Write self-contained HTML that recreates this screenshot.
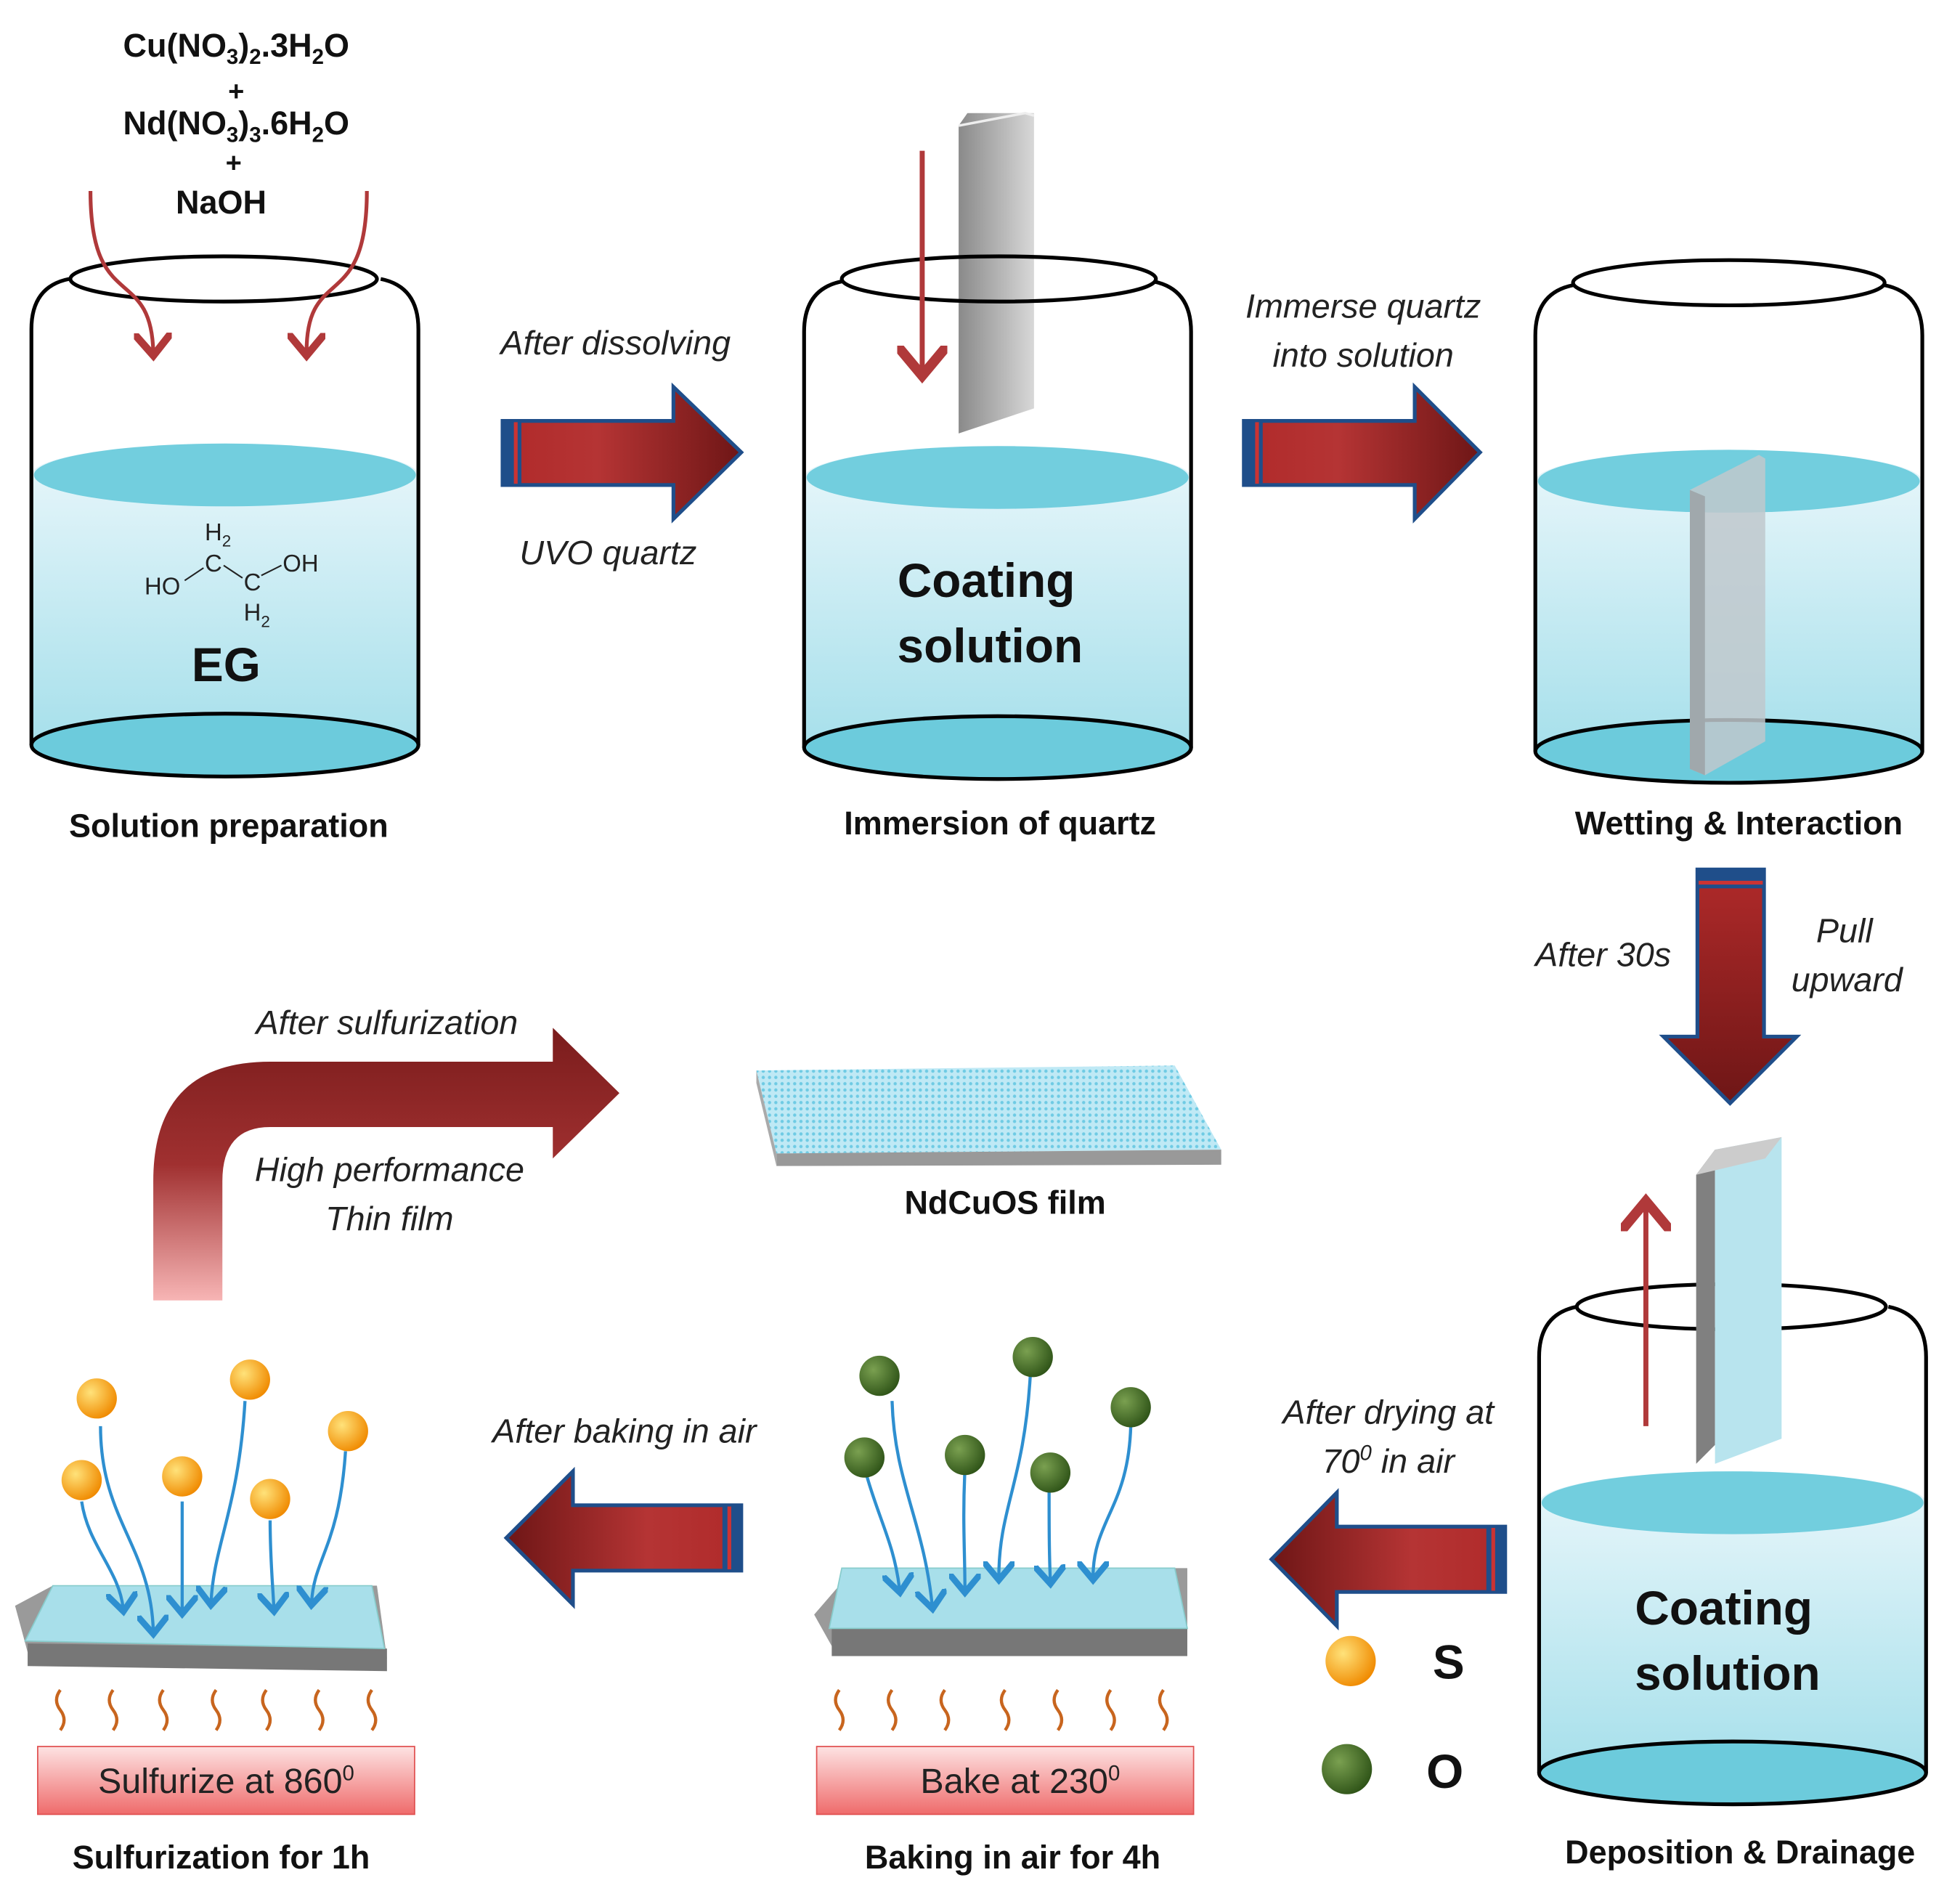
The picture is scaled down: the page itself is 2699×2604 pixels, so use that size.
<!DOCTYPE html>
<html><head><meta charset="utf-8"><style>html,body{margin:0;padding:0;background:#fff}svg{display:block}</style></head>
<body>
<svg width="2699" height="2604" viewBox="0 0 1560 1505" preserveAspectRatio="none" xmlns="http://www.w3.org/2000/svg" font-family="Liberation Sans, sans-serif">
<defs>
<linearGradient id="liq" x1="0" y1="0" x2="0" y2="1"><stop offset="0" stop-color="#eaf7fb"/><stop offset="1" stop-color="#9fdde9"/></linearGradient>
<linearGradient id="arrH" x1="0" y1="0" x2="1" y2="0"><stop offset="0" stop-color="#b02a2a"/><stop offset="0.4" stop-color="#b53434"/><stop offset="1" stop-color="#6e1616"/></linearGradient>
<linearGradient id="arrL" x1="1" y1="0" x2="0" y2="0"><stop offset="0" stop-color="#b02a2a"/><stop offset="0.4" stop-color="#b53434"/><stop offset="1" stop-color="#6e1616"/></linearGradient>
<linearGradient id="arrD" x1="0" y1="0" x2="0" y2="1"><stop offset="0" stop-color="#b02a2a"/><stop offset="1" stop-color="#6e1616"/></linearGradient>
<linearGradient id="curv" x1="0" y1="1" x2="0" y2="0"><stop offset="0" stop-color="#f7b5b5"/><stop offset="0.5" stop-color="#a03030"/><stop offset="1" stop-color="#7a1c1c"/></linearGradient>
<linearGradient id="heat" x1="0" y1="0" x2="0" y2="1"><stop offset="0" stop-color="#fde3e3"/><stop offset="1" stop-color="#ef6b6b"/></linearGradient>
<linearGradient id="gray" x1="0" y1="0" x2="1" y2="0"><stop offset="0" stop-color="#8a8a8a"/><stop offset="1" stop-color="#d8d8d8"/></linearGradient>
<radialGradient id="sb" cx="0.35" cy="0.35" r="0.7"><stop offset="0" stop-color="#ffe27a"/><stop offset="1" stop-color="#f08a00"/></radialGradient>
<radialGradient id="ob" cx="0.35" cy="0.35" r="0.7"><stop offset="0" stop-color="#7aa050"/><stop offset="1" stop-color="#2f5418"/></radialGradient>
<pattern id="dots" width="5" height="5" patternUnits="userSpaceOnUse"><rect width="5" height="5" fill="#bfe9f5"/><circle cx="2.5" cy="2.5" r="1.3" fill="#6fcbe4"/></pattern>
<marker id="ra" markerWidth="10" markerHeight="10" refX="5" refY="5" orient="auto"><path d="M0,0 L6,5 L0,10" fill="none" stroke="#b0393a" stroke-width="2"/></marker>
<marker id="ba" markerWidth="10" markerHeight="10" refX="5" refY="5" orient="auto"><path d="M0,0 L6,5 L0,10" fill="none" stroke="#2e8fd0" stroke-width="2"/></marker>
<g id="beaker">
<path d="M0,158 L0,373 A154,25 0 0 0 308,373 L308,158 A154,25 0 0 0 0,158Z" fill="url(#liq)"/>
<ellipse cx="154" cy="373" rx="154" ry="25" fill="#6ccbdc" stroke="#000" stroke-width="3"/>
<ellipse cx="154" cy="158" rx="152" ry="25" fill="#72cede"/>
<path d="M0,373 L0,42 Q0,8 30,2 M308,373 L308,42 Q308,8 278,2" fill="none" stroke="#000" stroke-width="3"/>
</g>
</defs>

<!-- Beaker 1 -->
<use href="#beaker" x="25" y="220"/>
<ellipse cx="178" cy="222" rx="122" ry="18" fill="none" stroke="#000" stroke-width="3"/>
<path d="M72,152 C72,250 120,210 122,280" fill="none" stroke="#b0393a" stroke-width="3" marker-end="url(#ra)"/>
<path d="M292,152 C292,250 244,210 244,280" fill="none" stroke="#b0393a" stroke-width="3" marker-end="url(#ra)"/>
<g font-weight="bold" font-size="26" text-anchor="middle" fill="#111">
<text x="188" y="45">Cu(NO<tspan font-size="17" dy="6">3</tspan><tspan dy="-6">)</tspan><tspan font-size="17" dy="6">2</tspan><tspan dy="-6">.3H</tspan><tspan font-size="17" dy="6">2</tspan><tspan dy="-6">O</tspan></text>
<text x="188" y="80" font-size="22">+</text>
<text x="188" y="107">Nd(NO<tspan font-size="17" dy="6">3</tspan><tspan dy="-6">)</tspan><tspan font-size="17" dy="6">3</tspan><tspan dy="-6">.6H</tspan><tspan font-size="17" dy="6">2</tspan><tspan dy="-6">O</tspan></text>
<text x="186" y="137" font-size="22">+</text>
<text x="176" y="170">NaOH</text>
</g>
<g font-size="19" fill="#222">
<text x="163" y="430">H<tspan font-size="13" dy="5">2</tspan></text>
<text x="163" y="455">C</text>
<text x="194" y="470">C</text>
<text x="194" y="494">H<tspan font-size="13" dy="5">2</tspan></text>
<text x="115" y="473">HO</text>
<text x="225" y="455">OH</text>
<path d="M147,462 L162,452 M178,450 L193,460 M208,458 L224,450" stroke="#222" stroke-width="1.2"/>
</g>
<text x="180" y="542" font-size="38" font-weight="bold" text-anchor="middle" fill="#111">EG</text>
<text x="182" y="666" font-size="26" font-weight="bold" text-anchor="middle" fill="#111">Solution preparation</text>

<!-- Beaker 2 -->
<use href="#beaker" x="640" y="222"/>
<path d="M763,100 L770,90 L823,90 L823,325 L763,345Z" fill="url(#gray)"/>
<path d="M763,100 L816,90 L823,92" fill="none" stroke="#eee" stroke-width="2"/>
<ellipse cx="795" cy="222" rx="125" ry="18" fill="none" stroke="#000" stroke-width="3"/>
<path d="M734,120 L734,295" stroke="#b0393a" stroke-width="4" marker-end="url(#ra)"/>
<text x="785" y="475" font-size="38" font-weight="bold" text-anchor="middle" fill="#111">Coating</text>
<text x="788" y="527" font-size="38" font-weight="bold" text-anchor="middle" fill="#111">solution</text>
<text x="796" y="664" font-size="26" font-weight="bold" text-anchor="middle" fill="#111">Immersion of quartz</text>

<!-- Beaker 3 -->
<use href="#beaker" x="1222" y="225"/>
<ellipse cx="1376" cy="225" rx="124" ry="18" fill="none" stroke="#000" stroke-width="3"/>
<path d="M1345,390 L1400,362 L1405,365 L1405,590 L1357,617 L1345,612Z" fill="#c0c8cc" opacity="0.85"/>
<path d="M1345,390 L1357,395 L1357,617 L1345,612Z" fill="#a0a8ac"/>
<text x="1384" y="664" font-size="26" font-weight="bold" text-anchor="middle" fill="#111">Wetting &amp; Interaction</text>

<!-- Arrow 1 -->
<path d="M400,335 L536,335 L536,308 L590,360 L536,413 L536,386 L400,386Z" fill="url(#arrH)" stroke="#1f4e8a" stroke-width="3"/>
<rect x="401" y="336" width="14" height="49" fill="#1f4e8a"/><rect x="409" y="336" width="3" height="49" fill="#c33"/>
<text x="490" y="282" font-size="27" font-style="italic" text-anchor="middle" fill="#222">After dissolving</text>
<text x="484" y="449" font-size="27" font-style="italic" text-anchor="middle" fill="#222">UVO quartz</text>

<!-- Arrow 2 -->
<path d="M990,335 L1126,335 L1126,308 L1178,360 L1126,413 L1126,386 L990,386Z" fill="url(#arrH)" stroke="#1f4e8a" stroke-width="3"/>
<rect x="991" y="336" width="14" height="49" fill="#1f4e8a"/><rect x="999" y="336" width="3" height="49" fill="#c33"/>
<text x="1085" y="253" font-size="27" font-style="italic" text-anchor="middle" fill="#222">Immerse quartz</text>
<text x="1085" y="292" font-size="27" font-style="italic" text-anchor="middle" fill="#222">into solution</text>

<!-- Down arrow -->
<path d="M1351,692 L1404,692 L1404,825 L1430,825 L1377,878 L1324,825 L1351,825Z" fill="url(#arrD)" stroke="#1f4e8a" stroke-width="3"/>
<rect x="1352" y="693" width="51" height="14" fill="#1f4e8a"/><rect x="1352" y="701" width="51" height="3" fill="#c33"/>
<text x="1276" y="769" font-size="27" font-style="italic" text-anchor="middle" fill="#222">After 30s</text>
<text x="1468" y="750" font-size="27" font-style="italic" text-anchor="middle" fill="#222">Pull</text>
<text x="1470" y="789" font-size="27" font-style="italic" text-anchor="middle" fill="#222">upward</text>

<!-- Beaker 4 -->
<use href="#beaker" x="1225" y="1038"/>
<ellipse cx="1378" cy="1040" rx="123" ry="18" fill="none" stroke="#000" stroke-width="3"/>
<path d="M1350,935 L1365,915 L1365,1150 L1350,1165Z" fill="#808080"/>
<path d="M1365,915 L1418,905 L1418,1145 L1365,1165Z" fill="#b8e4ee"/>
<path d="M1350,935 L1365,915 L1418,905 L1405,922Z" fill="#ccc"/>
<path d="M1310,1135 L1310,960" stroke="#b0393a" stroke-width="4" marker-end="url(#ra)"/>
<text x="1372" y="1293" font-size="38" font-weight="bold" text-anchor="middle" fill="#111">Coating</text>
<text x="1375" y="1345" font-size="38" font-weight="bold" text-anchor="middle" fill="#111">solution</text>
<text x="1385" y="1483" font-size="26" font-weight="bold" text-anchor="middle" fill="#111">Deposition &amp; Drainage</text>

<!-- Left arrow 1 -->
<path d="M1198,1215 L1064,1215 L1064,1188 L1012,1241 L1064,1294 L1064,1267 L1198,1267Z" fill="url(#arrL)" stroke="#1f4e8a" stroke-width="3"/>
<rect x="1183" y="1216" width="14" height="50" fill="#1f4e8a"/><rect x="1187" y="1216" width="3" height="50" fill="#c33"/>
<text x="1105" y="1133" font-size="27" font-style="italic" text-anchor="middle" fill="#222">After drying at</text>
<text x="1105" y="1172" font-size="27" font-style="italic" text-anchor="middle" fill="#222">70<tspan font-size="17" dy="-10">0</tspan><tspan dy="10"> in air</tspan></text>

<circle cx="1075" cy="1322" r="20" fill="url(#sb)"/>
<circle cx="1072" cy="1408" r="20" fill="url(#ob)"/>
<text x="1153" y="1336" font-size="38" font-weight="bold" text-anchor="middle" fill="#111">S</text>
<text x="1150" y="1423" font-size="38" font-weight="bold" text-anchor="middle" fill="#111">O</text>

<!-- Left arrow 2 -->
<path d="M590,1198 L456,1198 L456,1171 L403,1224 L456,1277 L456,1250 L590,1250Z" fill="url(#arrL)" stroke="#1f4e8a" stroke-width="3"/>
<rect x="575" y="1199" width="14" height="50" fill="#1f4e8a"/><rect x="579" y="1199" width="3" height="50" fill="#c33"/>
<text x="497" y="1148" font-size="27" font-style="italic" text-anchor="middle" fill="#222">After baking in air</text>

<!-- Baking slab -->
<path d="M648,1285 L680,1248 L945,1248 L945,1305 L662,1310Z" fill="#9a9a9a"/>
<path d="M662,1295 L945,1295 L945,1318 L662,1318Z" fill="#777"/>
<path d="M670,1248 L935,1248 L945,1296 L660,1296Z" fill="#a8dfea" stroke="#8cc" stroke-width="1"/>
<g stroke="#c8651e" stroke-width="2.5" fill="none">
<path d="M668,1345 q-6,8 0,16 q6,8 0,16"/><path d="M710,1345 q-6,8 0,16 q6,8 0,16"/><path d="M752,1345 q-6,8 0,16 q6,8 0,16"/><path d="M800,1345 q-6,8 0,16 q6,8 0,16"/><path d="M842,1345 q-6,8 0,16 q6,8 0,16"/><path d="M884,1345 q-6,8 0,16 q6,8 0,16"/><path d="M926,1345 q-6,8 0,16 q6,8 0,16"/>
</g>
<rect x="650" y="1390" width="300" height="54" fill="url(#heat)" stroke="#e05050"/>
<text x="812" y="1427" font-size="28" text-anchor="middle" fill="#222">Bake at 230<tspan font-size="17" dy="-10">0</tspan></text>
<text x="806" y="1487" font-size="26" font-weight="bold" text-anchor="middle" fill="#111">Baking in air for 4h</text>
<g stroke="#2e8fd0" stroke-width="2.5" fill="none" marker-end="url(#ba)">
<path d="M710,1115 C712,1180 735,1210 742,1278"/><path d="M690,1175 C700,1210 712,1230 716,1265"/><path d="M768,1170 C766,1210 768,1235 768,1265"/><path d="M820,1095 C815,1180 795,1200 795,1255"/><path d="M835,1185 C835,1215 835,1235 836,1258"/><path d="M900,1135 C898,1200 870,1210 870,1255"/>
</g>
<circle cx="700" cy="1095" r="16" fill="url(#ob)"/><circle cx="822" cy="1080" r="16" fill="url(#ob)"/><circle cx="688" cy="1160" r="16" fill="url(#ob)"/><circle cx="768" cy="1158" r="16" fill="url(#ob)"/><circle cx="836" cy="1172" r="16" fill="url(#ob)"/><circle cx="900" cy="1120" r="16" fill="url(#ob)"/>

<!-- Sulfurization slab -->
<path d="M12,1278 L42,1262 L300,1262 L308,1320 L22,1315Z" fill="#9a9a9a"/>
<path d="M22,1308 L308,1312 L308,1330 L22,1326Z" fill="#777"/>
<path d="M42,1262 L296,1262 L306,1312 L20,1306Z" fill="#a8dfea" stroke="#8cc" stroke-width="1"/>
<g stroke="#c8651e" stroke-width="2.5" fill="none">
<path d="M48,1345 q-6,8 0,16 q6,8 0,16"/><path d="M90,1345 q-6,8 0,16 q6,8 0,16"/><path d="M130,1345 q-6,8 0,16 q6,8 0,16"/><path d="M172,1345 q-6,8 0,16 q6,8 0,16"/><path d="M212,1345 q-6,8 0,16 q6,8 0,16"/><path d="M254,1345 q-6,8 0,16 q6,8 0,16"/><path d="M296,1345 q-6,8 0,16 q6,8 0,16"/>
</g>
<rect x="30" y="1390" width="300" height="54" fill="url(#heat)" stroke="#e05050"/>
<text x="180" y="1427" font-size="28" text-anchor="middle" fill="#222">Sulfurize at 860<tspan font-size="17" dy="-10">0</tspan></text>
<text x="176" y="1487" font-size="26" font-weight="bold" text-anchor="middle" fill="#111">Sulfurization for 1h</text>
<g stroke="#2e8fd0" stroke-width="2.5" fill="none" marker-end="url(#ba)">
<path d="M80,1135 C80,1210 120,1230 122,1298"/><path d="M65,1195 C70,1230 95,1250 98,1280"/><path d="M145,1195 C145,1230 145,1255 145,1282"/><path d="M195,1115 C190,1200 170,1230 168,1275"/><path d="M215,1210 C215,1240 217,1260 218,1280"/><path d="M275,1155 C270,1230 250,1240 248,1275"/>
</g>
<circle cx="77" cy="1113" r="16" fill="url(#sb)"/><circle cx="199" cy="1098" r="16" fill="url(#sb)"/><circle cx="277" cy="1139" r="16" fill="url(#sb)"/><circle cx="65" cy="1178" r="16" fill="url(#sb)"/><circle cx="145" cy="1175" r="16" fill="url(#sb)"/><circle cx="215" cy="1193" r="16" fill="url(#sb)"/>

<!-- Curved arrow -->
<path d="M122,1035 L122,940 Q122,845 215,845 L440,845 L440,818 L493,870 L440,922 L440,897 L215,897 Q177,897 177,940 L177,1035Z" fill="url(#curv)"/>
<text x="308" y="823" font-size="27" font-style="italic" text-anchor="middle" fill="#222">After sulfurization</text>
<text x="310" y="940" font-size="27" font-style="italic" text-anchor="middle" fill="#222">High performance</text>
<text x="310" y="979" font-size="27" font-style="italic" text-anchor="middle" fill="#222">Thin film</text>

<!-- NdCuOS film -->
<path d="M602,852 L935,848 L972,915 L618,918Z" fill="url(#dots)"/>
<path d="M602,852 L618,918 L618,928 L602,862Z" fill="#aaa"/>
<path d="M618,918 L972,915 L972,927 L618,928Z" fill="#999"/>
<text x="800" y="966" font-size="26" font-weight="bold" text-anchor="middle" fill="#111">NdCuOS film</text>
</svg>
</body></html>
